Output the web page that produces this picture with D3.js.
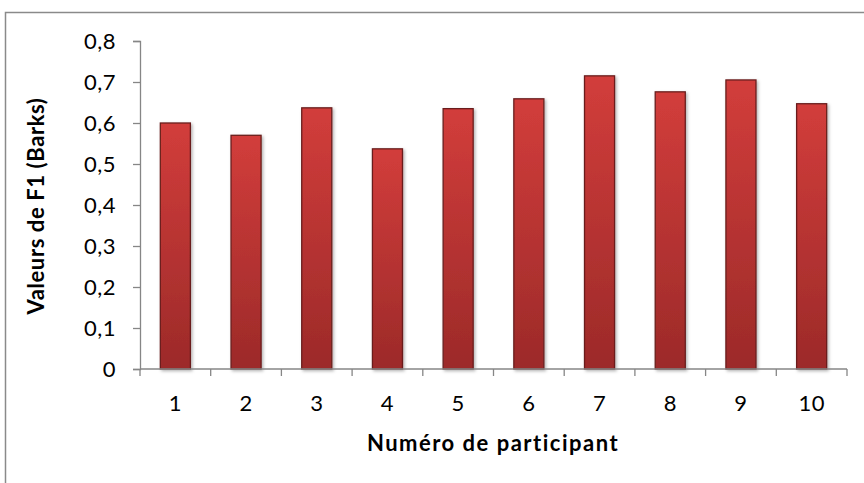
<!DOCTYPE html>
<html><head><meta charset="utf-8">
<script src="https://cdn.jsdelivr.net/npm/d3@7"></script>
<style>body{margin:0;background:#fff}svg{display:block}text{font-family:Lato,"Open Sans",sans-serif}</style>
</head><body>
<svg id="c" width="864" height="483"></svg>
<script>
const categories = ["1","2","3","4","5","6","7","8","9","10"];
const values = [0.60, 0.57, 0.637, 0.537, 0.635, 0.659, 0.715, 0.676, 0.705, 0.647];
const yTicks = [0, 0.1, 0.2, 0.3, 0.4, 0.5, 0.6, 0.7, 0.8];
const xTitle = "Numéro de participant";
const yTitle = "Valeurs de F1 (Barks)";

const svg = d3.select("#c");
const defs = svg.append("defs");
const g = defs.append("linearGradient").attr("id","bg").attr("x1",0).attr("y1",0).attr("x2",0).attr("y2",1);
g.append("stop").attr("offset","0%").attr("stop-color","#d23d3b");
g.append("stop").attr("offset","100%").attr("stop-color","#9c2a29");
const f = defs.append("filter").attr("id","sh").attr("x","-20%").attr("y","-5%").attr("width","150%").attr("height","115%");
f.append("feDropShadow").attr("dx",1.5).attr("dy",1.5).attr("stdDeviation",1.5).attr("flood-color","#000").attr("flood-opacity",0.3);

// outer frame
svg.append("rect").attr("x",5.5).attr("y",12.5).attr("width",900).attr("height",500)
  .attr("fill","none").attr("stroke","#8a8a8a").attr("stroke-width",1.5);

const x = d3.scaleBand().domain(categories).range([140,847]).paddingInner(0.575).paddingOuter(0.2875);
const y = d3.scaleLinear().domain([0,0.8]).range([369,41]);

svg.append("g").selectAll("rect").data(values).join("rect")
  .attr("x",(d,i)=>x(categories[i])).attr("width",x.bandwidth())
  .attr("y",d=>y(d)).attr("height",d=>y(0)-y(d))
  .attr("fill","url(#bg)").attr("stroke","#6a1f1e").attr("stroke-width",1.3)
  .attr("filter","url(#sh)");

const fmt = d => d===0 ? "0" : d3.format(".1f")(d).replace(".",",");
const ya = svg.append("g").attr("transform","translate(140,0)")
  .call(d3.axisLeft(y).tickValues(yTicks).tickFormat(fmt).tickSize(7).tickPadding(17));
const xa = svg.append("g").attr("transform","translate(0,369)")
  .call(d3.axisBottom(x).tickSize(0).tickPadding(26));
// x tick marks at band boundaries
const bounds = categories.map(c=>x(c)-x.step()*x.paddingInner()/2).concat([x.range()[1]]);
xa.selectAll("line.b").data(bounds).join("line").attr("class","b")
  .attr("x1",d=>d).attr("x2",d=>d).attr("y1",0).attr("y2",7).attr("stroke","#868686").attr("stroke-width",1.3);

[ya,xa].forEach(a=>{
  a.select(".domain").attr("stroke","#868686").attr("stroke-width",1.3);
  a.selectAll(".tick line").attr("stroke","#868686").attr("stroke-width",1.3);
  a.selectAll("text").attr("font-size",22).attr("fill","#000").attr("font-family","Lato,sans-serif").attr("letter-spacing",0.5);
});
xa.select(".domain").attr("d","M140,0H847");

svg.append("text").attr("x",493).attr("y",451).attr("text-anchor","middle")
  .attr("font-size",22).attr("font-weight","bold").attr("letter-spacing",1.5).text(xTitle);
svg.append("text").attr("transform","translate(44,206) rotate(-90)").attr("text-anchor","middle")
  .attr("font-size",22).attr("font-weight","bold").attr("letter-spacing",0.6).text(yTitle);
</script>
</body></html>
